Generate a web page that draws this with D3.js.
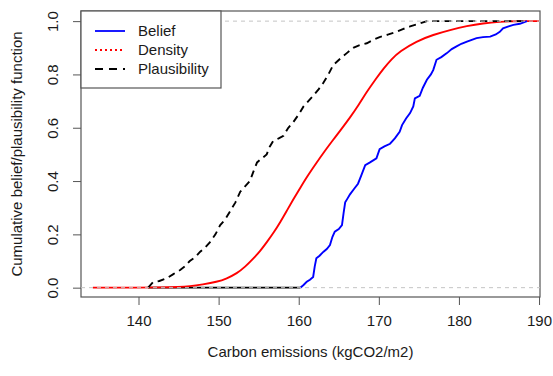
<!DOCTYPE html>
<html>
<head>
<meta charset="utf-8">
<script src="https://cdn.jsdelivr.net/npm/d3@7"></script>
<style>
  body { margin: 0; background: #fff; }
  text { font-family: Arial, "Liberation Sans", sans-serif; fill: #1a1a1a; }
</style>
</head>
<body>
<div id="viz"></div>
<script>
// values
var xTicks = [140, 150, 160, 170, 180, 190];
var yTicks = [0, 0.2, 0.4, 0.6, 0.8, 1.0];
var refLines = [0, 1];

var densX = [134.3, 140, 143, 145, 146.4, 148, 149.8, 151, 152.3, 153.3, 154.3, 155.2, 156.0, 156.9, 157.7, 158.5, 159.3, 160.2, 161.0, 162.2, 163.3, 164.3, 165.2, 166.4, 167.5, 168.5, 169.6, 170.6, 171.6, 172.6, 174.7, 176.8, 178.9, 181.0, 183.0, 185.1, 187, 190];
var densY = [0, 0, 0.001, 0.002, 0.005, 0.012, 0.022, 0.034, 0.054, 0.078, 0.108, 0.138, 0.17, 0.208, 0.246, 0.288, 0.33, 0.375, 0.415, 0.468, 0.515, 0.555, 0.59, 0.638, 0.686, 0.735, 0.782, 0.823, 0.858, 0.886, 0.925, 0.949, 0.967, 0.982, 0.992, 0.998, 1, 1];

var plausX = [141.2, 141.8, 142.6, 143.5, 144.3, 145.2, 145.8, 146.4, 147.1, 147.7, 148.3, 148.9, 149.6, 150.2, 150.8, 151.4, 152.1, 152.7, 153.3, 153.9, 154.4, 154.8, 155.4, 156.0, 156.4, 156.8, 157.5, 158.1, 158.7, 159.3, 160.0, 160.6, 161.2, 161.8, 162.5, 163.1, 163.7, 164.3, 165.2, 166.0, 166.8, 167.6, 168.5, 169.3, 170.1, 171.2, 172.2, 173.0, 173.9, 175.0, 176.0, 188.5];
var plausY = [0, 0.02, 0.025, 0.035, 0.05, 0.066, 0.08, 0.10, 0.115, 0.135, 0.15, 0.17, 0.2, 0.235, 0.255, 0.285, 0.32, 0.36, 0.38, 0.40, 0.44, 0.47, 0.485, 0.50, 0.53, 0.55, 0.56, 0.57, 0.6, 0.62, 0.65, 0.68, 0.70, 0.72, 0.745, 0.77, 0.80, 0.835, 0.86, 0.88, 0.90, 0.91, 0.917, 0.93, 0.94, 0.95, 0.96, 0.97, 0.98, 0.99, 1.0, 1.0];

var beliefFloorX = [141.2, 160.2];

var beliefX = [160.2, 160.6, 161.0, 161.4, 161.8, 162.0, 162.2, 162.6, 163.1, 163.5, 163.9, 164.2, 164.5, 165.0, 165.4, 165.6, 165.8, 166.1, 166.4, 166.9, 167.4, 167.8, 168.3, 168.9, 169.7, 170.1, 170.7, 171.4, 172.0, 172.6, 172.9, 173.4, 173.9, 174.3, 174.5, 175.1, 175.5, 176.0, 176.5, 176.8, 177.2, 177.8, 178.5, 179.1, 179.7, 180.3, 181.0, 181.6, 182.2, 183.0, 183.9, 184.6, 185.1, 185.5, 186.2, 186.8, 187.6, 188.5];
var beliefY = [0, 0.01, 0.022, 0.03, 0.04, 0.08, 0.11, 0.12, 0.135, 0.145, 0.16, 0.19, 0.21, 0.22, 0.235, 0.28, 0.32, 0.335, 0.35, 0.37, 0.39, 0.42, 0.46, 0.47, 0.485, 0.52, 0.53, 0.54, 0.56, 0.585, 0.61, 0.635, 0.655, 0.68, 0.71, 0.72, 0.75, 0.78, 0.80, 0.817, 0.855, 0.865, 0.88, 0.895, 0.905, 0.915, 0.923, 0.93, 0.936, 0.94, 0.942, 0.95, 0.96, 0.973, 0.98, 0.986, 0.99, 1.0];

var legendLabels = ['Belief', 'Density', 'Plausibility'];
var legendColors = ['#0000ff', '#ff0000', '#000000'];
var legendDash = [null, '2,3', '8,6'];

var margin = { top: 11, right: 13, bottom: 79, left: 81 },
  width = 553 - margin.left - margin.right,
  height = 376 - margin.top - margin.bottom;

var svg = d3.select('#viz').append('svg')
  .attr('width', 553)
  .attr('height', 376);

var g = svg.append('g')
  .attr('transform', 'translate(' + margin.left + ',' + margin.top + ')');

var x = d3.scaleLinear().domain([132.82, 190.12]).range([0, width]);
var y = d3.scaleLinear().domain([-0.035, 1.038]).range([height, 0]);

// axes
var xAxis = g.append('g')
  .attr('transform', 'translate(0,' + height + ')')
  .call(d3.axisBottom(x).tickValues(xTicks).tickSize(8).tickSizeOuter(0).tickFormat(d3.format('d')));
xAxis.select('.domain').remove();
xAxis.selectAll('line').attr('stroke', '#555');
xAxis.selectAll('text').style('font-size', '15px').attr('y', 18);

var yAxis = g.append('g')
  .call(d3.axisLeft(y).tickValues(yTicks).tickSize(8).tickSizeOuter(0).tickFormat(d3.format('.1f')));
yAxis.select('.domain').remove();
yAxis.selectAll('line').attr('stroke', '#555');
yAxis.selectAll('text')
  .style('font-size', '15px')
  .attr('x', null).attr('dy', null)
  .attr('text-anchor', 'middle')
  .attr('transform', 'translate(-23,0) rotate(-90)');

// box
g.append('rect')
  .attr('width', width).attr('height', height)
  .attr('fill', 'none').attr('stroke', '#555').attr('stroke-width', 1.2);

var line = d3.line()
  .x(function(d) { return x(d[0]); })
  .y(function(d) { return y(d[1]); });

g.append('path')
  .datum(d3.zip(beliefFloorX, [0, 0]))
  .attr('d', line)
  .attr('fill', 'none').attr('stroke', '#000').attr('stroke-width', 1.6);

g.append('path')
  .datum(d3.zip(densX, densY))
  .attr('d', line.curve(d3.curveBasis))
  .attr('fill', 'none').attr('stroke', '#ff0000').attr('stroke-width', 1.9);

line.curve(d3.curveLinear);

g.append('path')
  .datum(d3.zip(plausX, plausY))
  .attr('d', line)
  .attr('fill', 'none').attr('stroke', '#000').attr('stroke-width', 1.9)
  .attr('stroke-dasharray', '7,5');

g.append('path')
  .datum(d3.zip(beliefX, beliefY))
  .attr('d', line)
  .attr('fill', 'none').attr('stroke', '#0000ff').attr('stroke-width', 1.9);

// grey reference lines
g.selectAll('.ref').data(refLines).enter().append('line')
  .attr('x1', 0).attr('x2', width)
  .attr('y1', function(d) { return y(d); })
  .attr('y2', function(d) { return y(d); })
  .attr('stroke', '#c4c4c4').attr('stroke-width', 1)
  .attr('stroke-dasharray', '4,4');

// legend
var legend = g.append('g');
legend.append('rect')
  .attr('x', 0).attr('y', 0).attr('width', 140).attr('height', 77)
  .attr('fill', '#fff').attr('stroke', '#555').attr('stroke-width', 1.2);
var rows = legend.selectAll('.row').data(legendLabels).enter().append('g')
  .attr('transform', function(d, i) { return 'translate(0,' + (20 + i * 19) + ')'; });
rows.append('line')
  .attr('x1', 14).attr('x2', 44)
  .attr('stroke', function(d, i) { return legendColors[i]; })
  .attr('stroke-width', 1.8)
  .attr('stroke-dasharray', function(d, i) { return legendDash[i]; });
rows.append('text')
  .attr('x', 57).attr('dy', '0.35em')
  .style('font-size', '15px')
  .text(function(d) { return d; });

// titles
svg.append('text')
  .attr('x', margin.left + width / 2).attr('y', 357)
  .attr('text-anchor', 'middle').style('font-size', '15px')
  .text('Carbon emissions (kgCO2/m2)');
svg.append('text')
  .attr('transform', 'translate(22,' + (margin.top + height / 2) + ') rotate(-90)')
  .attr('text-anchor', 'middle').style('font-size', '15px')
  .text('Cumulative belief/plausibility function');
</script>
</body>
</html>
